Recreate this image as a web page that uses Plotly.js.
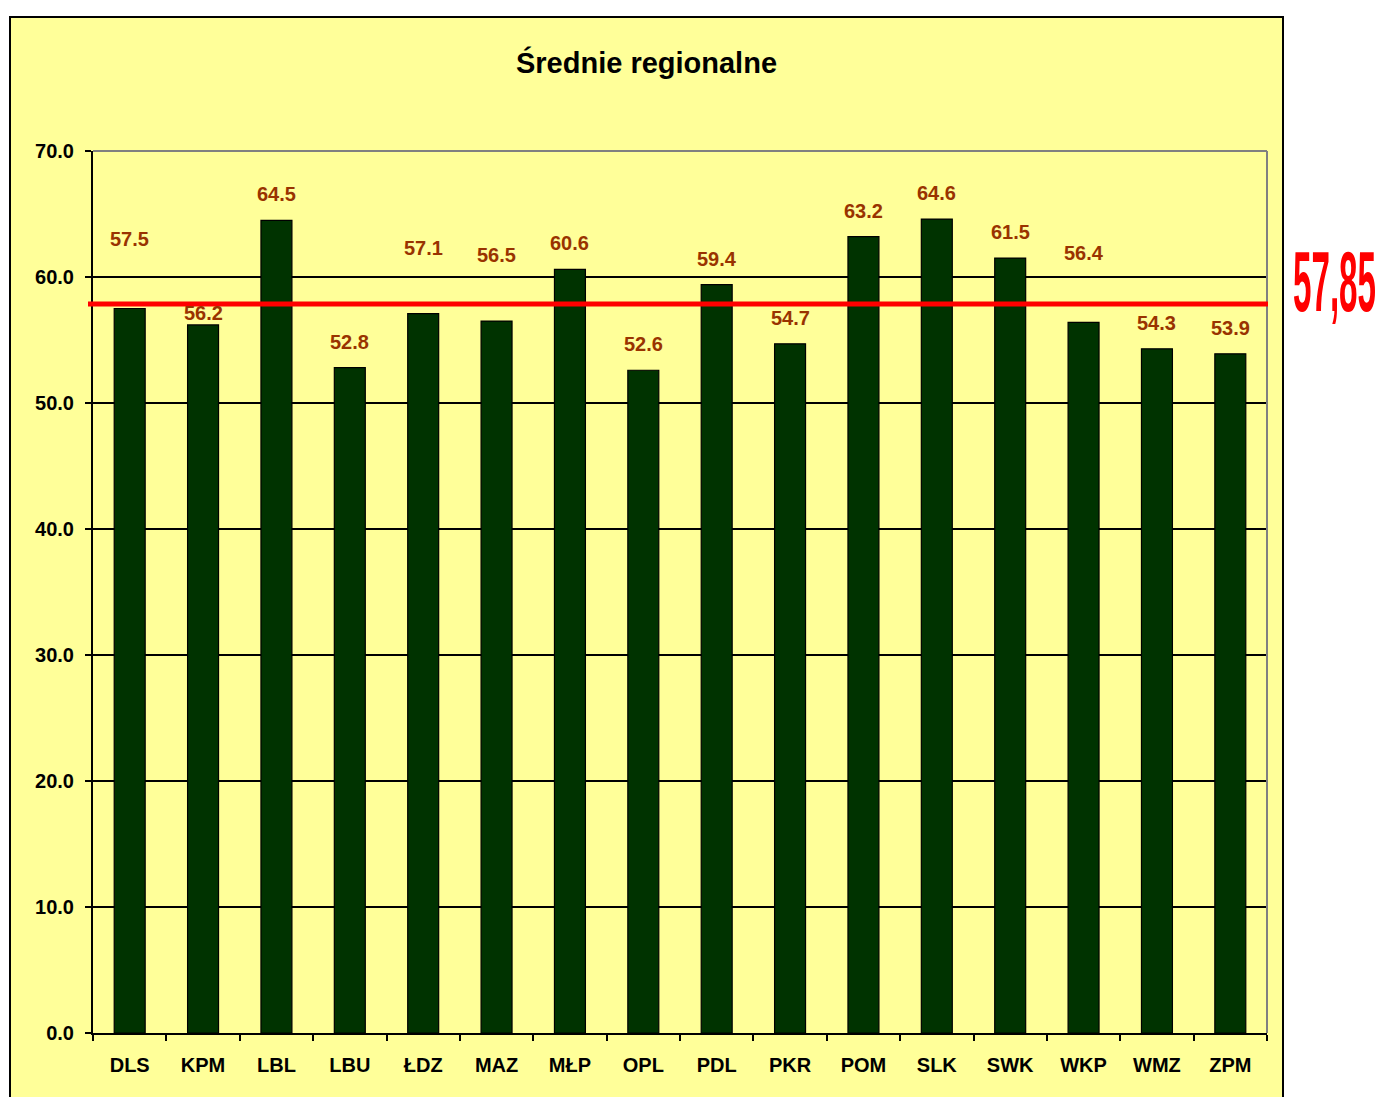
<!DOCTYPE html>
<html>
<head>
<meta charset="utf-8">
<script src="https://cdn.plot.ly/plotly-3.0.1.min.js"></script>
<style>
  html, body { margin: 0; padding: 0; background: #ffffff; }
  #wrap { position: relative; width: 1380px; height: 1097px; overflow: hidden; }
  #chart { width: 1380px; height: 1097px; }
  #avgLabel {
    position: absolute; left: 1293px; top: 238px;
    font-family: "Liberation Sans Narrow", "Liberation Sans", Arial, sans-serif;
    font-weight: bold; font-size: 86px; line-height: 86px; color: #ff0000;
    white-space: nowrap; transform-origin: 0 0;
  }
</style>
</head>
<body>
<div id="wrap">
  <div id="chart"></div>
  <div id="avgLabel">57,85</div>
</div>
<script>
// ---- data ----
const regions = ["DLS", "KPM", "LBL", "LBU", "ŁDZ", "MAZ", "MŁP", "OPL", "PDL", "PKR", "POM", "SLK", "SWK", "WKP", "WMZ", "ZPM"];
const averages = [57.5, 56.2, 64.5, 52.8, 57.1, 56.5, 60.6, 52.6, 59.4, 54.7, 63.2, 64.6, 61.5, 56.4, 54.3, 53.9];
const overallAverage = 57.85;
const overallAverageText = "57,85";
const yTickValues = [0, 10, 20, 30, 40, 50, 60, 70];
const chartTitle = "Średnie regionalne";

// ---- label placement (style only: pixel lift of each data label above its bar) ----
const labelLift = [70, 12, 26, 26, 66, 66, 26, 26, 26, 26, 26, 26, 26, 69, 26, 26];

const FONT = '"Liberation Sans", Arial, sans-serif';

const L = 93, R = 1267, T = 151, B = 1033, W = 1380, H = 1097;
const pw = R - L, ph = B - T;
const px = v => (v - L) / pw;           // pixel x -> paper x
const py = v => (B - v) / ph;           // pixel y -> paper y

const trace = {
  type: 'bar',
  x: regions,
  y: averages,
  marker: { color: '#003300', line: { color: '#000000', width: 1.2 } },
  hoverinfo: 'x+y'
};

const annotations = regions.map((r, i) => ({
  x: r, y: averages[i], xref: 'x', yref: 'y',
  text: averages[i].toFixed(1),
  showarrow: false, yanchor: 'middle', xanchor: 'center',
  yshift: labelLift[i],
  font: { family: FONT, size: 20, weight: 'bold', color: '#993300' }
}));

const shapes = [
  // yellow chart-area box
  { type: 'rect', xref: 'paper', yref: 'paper', layer: 'below',
    x0: px(10), x1: px(1283), y0: py(1100), y1: py(17),
    fillcolor: '#FFFF99', line: { color: '#000000', width: 2 } },
  // grey top and right borders of plot area
  { type: 'line', xref: 'paper', yref: 'paper', layer: 'above',
    x0: 0, x1: 1, y0: 1, y1: 1, line: { color: '#808080', width: 2 } },
  { type: 'line', xref: 'paper', yref: 'paper', layer: 'above',
    x0: 1, x1: 1, y0: 0, y1: 1, line: { color: '#808080', width: 2 } },
  // overall average line
  { type: 'line', xref: 'paper', yref: 'y', layer: 'above',
    x0: px(88), x1: px(1268), y0: overallAverage, y1: overallAverage,
    line: { color: '#ff0000', width: 5 } }
];

const layout = {
  width: W, height: H,
  margin: { l: L, r: W - R, t: T, b: H - B, pad: 0 },
  paper_bgcolor: '#ffffff',
  plot_bgcolor: 'rgba(0,0,0,0)',
  showlegend: false,
  bargap: 0.578,
  title: {
    text: chartTitle,
    font: { family: FONT, size: 29, weight: 'bold', color: '#000000' },
    x: 646.5 / W, xref: 'container', xanchor: 'center',
    y: 1 - 63 / H, yref: 'container', yanchor: 'middle'
  },
  xaxis: {
    type: 'category',
    showline: true, linecolor: '#000000', linewidth: 2,
    ticks: 'outside', tickson: 'boundaries', ticklen: 6, tickwidth: 2, tickcolor: '#000000',
    ticklabelstandoff: 13,
    tickfont: { family: FONT, size: 20, weight: 'bold', color: '#000000' },
    showgrid: false, zeroline: false, fixedrange: true
  },
  yaxis: {
    range: [0, 70],
    tickvals: yTickValues,
    ticktext: yTickValues.map(v => v.toFixed(1)),
    showline: true, linecolor: '#000000', linewidth: 2,
    ticks: 'outside', ticklen: 6, tickwidth: 2, tickcolor: '#000000',
    ticklabelstandoff: 7,
    tickfont: { family: FONT, size: 20, weight: 'bold', color: '#000000' },
    showgrid: true, gridcolor: '#000000', gridwidth: 1.3,
    zeroline: false, fixedrange: true
  },
  shapes: shapes,
  annotations: annotations
};

Plotly.newPlot('chart', [trace], layout, { displayModeBar: false, staticPlot: true }).then(() => {
  const el = document.getElementById('avgLabel');
  el.textContent = overallAverageText;
  const w = el.getBoundingClientRect().width;
  const target = 1376 - 1293;
  if (w > 0) el.style.transform = 'scaleX(' + (target / w) + ')';
});
</script>
</body>
</html>
